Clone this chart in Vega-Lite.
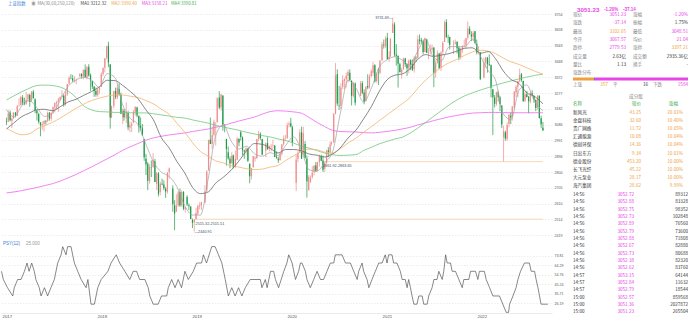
{
"$schema":"https://vega.github.io/schema/vega-lite/v6.json",
"background":"#ffffff",
"padding":0,
"spacing":8,
"config":{"view":{"stroke":null},"font":"Noto Sans CJK SC","axis":{"labelFont":"Liberation Sans","labelOverlap":false,"labelBound":false},"text":{"font":"Noto Sans CJK SC"}},
"datasets":{
"k":[
{"d":"2016-12-30","o":3108,"h":3128,"l":3084,"c":3104},
{"d":"2017-01-06","o":3105,"h":3172,"l":3101,"c":3154},
{"d":"2017-01-13","o":3160,"h":3172,"l":3106,"c":3113},
{"d":"2017-01-20","o":3110,"h":3128,"l":3066,"c":3123},
{"d":"2017-01-26","o":3126,"h":3161,"l":3120,"c":3159},
{"d":"2017-02-03","o":3159,"h":3163,"l":3130,"c":3141},
{"d":"2017-02-10","o":3140,"h":3204,"l":3138,"c":3197},
{"d":"2017-02-17","o":3200,"h":3245,"l":3195,"c":3202},
{"d":"2017-02-24","o":3205,"h":3261,"l":3200,"c":3253},
{"d":"2017-03-03","o":3248,"h":3264,"l":3205,"c":3218},
{"d":"2017-03-10","o":3220,"h":3249,"l":3203,"c":3212},
{"d":"2017-03-17","o":3213,"h":3284,"l":3205,"c":3237},
{"d":"2017-03-24","o":3240,"h":3269,"l":3224,"c":3269},
{"d":"2017-03-31","o":3265,"h":3273,"l":3194,"c":3223},
{"d":"2017-04-07","o":3230,"h":3287,"l":3225,"c":3286},
{"d":"2017-04-14","o":3285,"h":3295,"l":3243,"c":3246},
{"d":"2017-04-21","o":3240,"h":3245,"l":3155,"c":3173},
{"d":"2017-04-28","o":3170,"h":3175,"l":3111,"c":3155},
{"d":"2017-05-05","o":3150,"h":3158,"l":3092,"c":3103},
{"d":"2017-05-12","o":3100,"h":3100,"l":3016,"c":3083},
{"d":"2017-05-19","o":3082,"h":3106,"l":3053,"c":3090},
{"d":"2017-05-26","o":3090,"h":3110,"l":3044,"c":3110},
{"d":"2017-06-02","o":3108,"h":3115,"l":3086,"c":3105},
{"d":"2017-06-09","o":3110,"h":3165,"l":3100,"c":3158},
{"d":"2017-06-16","o":3158,"h":3162,"l":3110,"c":3123},
{"d":"2017-06-23","o":3123,"h":3160,"l":3110,"c":3158},
{"d":"2017-06-30","o":3160,"h":3194,"l":3150,"c":3192},
{"d":"2017-07-07","o":3190,"h":3218,"l":3160,"c":3218},
{"d":"2017-07-14","o":3215,"h":3230,"l":3180,"c":3222},
{"d":"2017-07-21","o":3225,"h":3248,"l":3162,"c":3238},
{"d":"2017-07-28","o":3235,"h":3257,"l":3231,"c":3253},
{"d":"2017-08-04","o":3255,"h":3294,"l":3254,"c":3262},
{"d":"2017-08-11","o":3260,"h":3270,"l":3194,"c":3208},
{"d":"2017-08-18","o":3210,"h":3287,"l":3200,"c":3268},
{"d":"2017-08-25","o":3270,"h":3332,"l":3260,"c":3332},
{"d":"2017-09-01","o":3335,"h":3379,"l":3330,"c":3367},
{"d":"2017-09-08","o":3366,"h":3391,"l":3360,"c":3365},
{"d":"2017-09-15","o":3365,"h":3386,"l":3344,"c":3353},
{"d":"2017-09-22","o":3350,"h":3378,"l":3340,"c":3352},
{"d":"2017-09-29","o":3349,"h":3364,"l":3330,"c":3349},
{"d":"2017-10-13","o":3380,"h":3397,"l":3370,"c":3391},
{"d":"2017-10-20","o":3392,"h":3397,"l":3364,"c":3378},
{"d":"2017-10-27","o":3378,"h":3418,"l":3360,"c":3417},
{"d":"2017-11-03","o":3417,"h":3450,"l":3370,"c":3372},
{"d":"2017-11-10","o":3370,"h":3440,"l":3360,"c":3433},
{"d":"2017-11-17","o":3436,"h":3451,"l":3376,"c":3383},
{"d":"2017-11-24","o":3385,"h":3395,"l":3290,"c":3353},
{"d":"2017-12-01","o":3350,"h":3352,"l":3301,"c":3317},
{"d":"2017-12-08","o":3315,"h":3320,"l":3254,"c":3289},
{"d":"2017-12-15","o":3290,"h":3310,"l":3255,"c":3267},
{"d":"2017-12-22","o":3265,"h":3306,"l":3254,"c":3297},
{"d":"2017-12-29","o":3297,"h":3314,"l":3273,"c":3307},
{"d":"2018-01-05","o":3314,"h":3402,"l":3314,"c":3391},
{"d":"2018-01-12","o":3392,"h":3430,"l":3380,"c":3429},
{"d":"2018-01-19","o":3430,"h":3488,"l":3402,"c":3487},
{"d":"2018-01-26","o":3490,"h":3562,"l":3480,"c":3558},
{"d":"2018-02-02","o":3563,"h":3587,"l":3433,"c":3462},
{"d":"2018-02-09","o":3450,"h":3450,"l":3062,"c":3129},
{"d":"2018-02-14","o":3130,"h":3200,"l":3125,"c":3199},
{"d":"2018-02-23","o":3200,"h":3290,"l":3185,"c":3289},
{"d":"2018-03-02","o":3290,"h":3310,"l":3240,"c":3254},
{"d":"2018-03-09","o":3250,"h":3325,"l":3240,"c":3307},
{"d":"2018-03-16","o":3300,"h":3335,"l":3263,"c":3269},
{"d":"2018-03-23","o":3268,"h":3280,"l":3150,"c":3152},
{"d":"2018-03-30","o":3130,"h":3184,"l":3091,"c":3169},
{"d":"2018-04-04","o":3170,"h":3181,"l":3110,"c":3131},
{"d":"2018-04-13","o":3125,"h":3220,"l":3095,"c":3160},
{"d":"2018-04-20","o":3155,"h":3170,"l":3053,"c":3071},
{"d":"2018-04-27","o":3068,"h":3105,"l":3041,"c":3082},
{"d":"2018-05-04","o":3079,"h":3104,"l":3041,"c":3091},
{"d":"2018-05-11","o":3100,"h":3175,"l":3095,"c":3163},
{"d":"2018-05-18","o":3160,"h":3198,"l":3140,"c":3193},
{"d":"2018-05-25","o":3190,"h":3195,"l":3130,"c":3141},
{"d":"2018-06-01","o":3140,"h":3141,"l":3038,"c":3075},
{"d":"2018-06-08","o":3080,"h":3130,"l":3050,"c":3067},
{"d":"2018-06-15","o":3065,"h":3090,"l":3020,"c":3021},
{"d":"2018-06-22","o":3000,"h":3001,"l":2868,"c":2890},
{"d":"2018-06-29","o":2880,"h":2910,"l":2782,"c":2847},
{"d":"2018-07-06","o":2850,"h":2860,"l":2691,"c":2747},
{"d":"2018-07-13","o":2745,"h":2847,"l":2730,"c":2831},
{"d":"2018-07-20","o":2830,"h":2870,"l":2770,"c":2829},
{"d":"2018-07-27","o":2830,"h":2915,"l":2826,"c":2873},
{"d":"2018-08-03","o":2865,"h":2880,"l":2740,"c":2740},
{"d":"2018-08-10","o":2730,"h":2800,"l":2692,"c":2795},
{"d":"2018-08-17","o":2790,"h":2800,"l":2653,"c":2669},
{"d":"2018-08-24","o":2680,"h":2741,"l":2660,"c":2729},
{"d":"2018-08-31","o":2730,"h":2760,"l":2720,"c":2725},
{"d":"2018-09-07","o":2725,"h":2750,"l":2690,"c":2703},
{"d":"2018-09-14","o":2700,"h":2710,"l":2644,"c":2682},
{"d":"2018-09-21","o":2682,"h":2799,"l":2670,"c":2797},
{"d":"2018-09-28","o":2800,"h":2827,"l":2760,"c":2821},
{"d":"2018-10-12","o":2700,"h":2720,"l":2560,"c":2606},
{"d":"2018-10-19","o":2600,"h":2630,"l":2449,"c":2550},
{"d":"2018-10-26","o":2560,"h":2665,"l":2560,"c":2598},
{"d":"2018-11-02","o":2600,"h":2685,"l":2590,"c":2676},
{"d":"2018-11-09","o":2680,"h":2700,"l":2590,"c":2598},
{"d":"2018-11-16","o":2600,"h":2690,"l":2590,"c":2679},
{"d":"2018-11-23","o":2680,"h":2685,"l":2570,"c":2579},
{"d":"2018-11-30","o":2575,"h":2590,"l":2555,"c":2588},
{"d":"2018-12-07","o":2650,"h":2660,"l":2595,"c":2605},
{"d":"2018-12-14","o":2600,"h":2610,"l":2570,"c":2593},
{"d":"2018-12-21","o":2590,"h":2595,"l":2515,"c":2516},
{"d":"2018-12-28","o":2510,"h":2520,"l":2462,"c":2494},
{"d":"2019-01-04","o":2497,"h":2515,"l":2440.91,"c":2514},
{"d":"2019-01-11","o":2515,"h":2585,"l":2515,"c":2553},
{"d":"2019-01-18","o":2550,"h":2600,"l":2540,"c":2596},
{"d":"2019-01-25","o":2596,"h":2618,"l":2575,"c":2601},
{"d":"2019-02-01","o":2600,"h":2620,"l":2570,"c":2618},
{"d":"2019-02-15","o":2618,"h":2721,"l":2610,"c":2682},
{"d":"2019-02-22","o":2690,"h":2812,"l":2680,"c":2804},
{"d":"2019-03-01","o":2810,"h":2995,"l":2810,"c":2994},
{"d":"2019-03-08","o":2995,"h":3129,"l":2969,"c":2969},
{"d":"2019-03-15","o":2970,"h":3075,"l":2940,"c":3022},
{"d":"2019-03-22","o":3025,"h":3116,"l":3015,"c":3104},
{"d":"2019-03-29","o":3090,"h":3100,"l":2960,"c":3091},
{"d":"2019-04-04","o":3100,"h":3250,"l":3100,"c":3246},
{"d":"2019-04-12","o":3250,"h":3288,"l":3180,"c":3189},
{"d":"2019-04-19","o":3190,"h":3270,"l":3170,"c":3270},
{"d":"2019-04-26","o":3260,"h":3265,"l":3050,"c":3086},
{"d":"2019-05-03","o":3080,"h":3090,"l":3040,"c":3078},
{"d":"2019-05-10","o":3000,"h":3000,"l":2838,"c":2939},
{"d":"2019-05-17","o":2920,"h":2955,"l":2875,"c":2882},
{"d":"2019-05-24","o":2880,"h":2895,"l":2823,"c":2852},
{"d":"2019-05-31","o":2855,"h":2920,"l":2850,"c":2898},
{"d":"2019-06-06","o":2900,"h":2905,"l":2822,"c":2827},
{"d":"2019-06-14","o":2830,"h":2930,"l":2825,"c":2881},
{"d":"2019-06-21","o":2875,"h":3010,"l":2870,"c":3001},
{"d":"2019-06-28","o":3000,"h":3005,"l":2955,"c":2979},
{"d":"2019-07-05","o":3040,"h":3048,"l":2990,"c":3011},
{"d":"2019-07-12","o":3010,"h":3015,"l":2900,"c":2931},
{"d":"2019-07-19","o":2930,"h":2935,"l":2880,"c":2924},
{"d":"2019-07-26","o":2925,"h":2950,"l":2905,"c":2944},
{"d":"2019-08-02","o":2940,"h":2946,"l":2860,"c":2868},
{"d":"2019-08-09","o":2850,"h":2852,"l":2733,"c":2774},
{"d":"2019-08-16","o":2775,"h":2825,"l":2755,"c":2824},
{"d":"2019-08-23","o":2830,"h":2892,"l":2825,"c":2897},
{"d":"2019-08-30","o":2880,"h":2895,"l":2862,"c":2886},
{"d":"2019-09-06","o":2885,"h":3000,"l":2880,"c":2999},
{"d":"2019-09-13","o":3000,"h":3048,"l":2985,"c":3031},
{"d":"2019-09-20","o":3030,"h":3040,"l":2995,"c":3006},
{"d":"2019-09-27","o":3000,"h":3000,"l":2905,"c":2905},
{"d":"2019-10-11","o":2930,"h":2980,"l":2891,"c":2973},
{"d":"2019-10-18","o":2975,"h":3010,"l":2935,"c":2938},
{"d":"2019-10-25","o":2940,"h":2960,"l":2925,"c":2954},
{"d":"2019-11-01","o":2955,"h":2970,"l":2925,"c":2958},
{"d":"2019-11-08","o":2960,"h":2995,"l":2940,"c":2964},
{"d":"2019-11-15","o":2960,"h":2962,"l":2890,"c":2891},
{"d":"2019-11-22","o":2890,"h":2925,"l":2880,"c":2885},
{"d":"2019-11-29","o":2880,"h":2892,"l":2855,"c":2871},
{"d":"2019-12-06","o":2872,"h":2915,"l":2870,"c":2912},
{"d":"2019-12-13","o":2910,"h":2970,"l":2900,"c":2967},
{"d":"2019-12-20","o":2968,"h":3021,"l":2960,"c":3004},
{"d":"2019-12-27","o":3005,"h":3024,"l":2988,"c":3005},
{"d":"2020-01-03","o":3005,"h":3098,"l":3000,"c":3083},
{"d":"2020-01-10","o":3085,"h":3105,"l":3070,"c":3092},
{"d":"2020-01-17","o":3095,"h":3127,"l":3070,"c":3075},
{"d":"2020-01-23","o":3070,"h":3080,"l":2955,"c":2977},
{"d":"2020-02-07","o":2735,"h":2905,"l":2685,"c":2876},
{"d":"2020-02-14","o":2880,"h":2927,"l":2860,"c":2917},
{"d":"2020-02-21","o":2920,"h":3058,"l":2915,"c":3039},
{"d":"2020-02-28","o":3040,"h":3074,"l":2880,"c":2880},
{"d":"2020-03-06","o":2910,"h":3074,"l":2900,"c":3034},
{"d":"2020-03-13","o":2970,"h":2987,"l":2880,"c":2887},
{"d":"2020-03-20","o":2880,"h":2900,"l":2646,"c":2745},
{"d":"2020-03-27","o":2690,"h":2782,"l":2690,"c":2772},
{"d":"2020-04-03","o":2740,"h":2780,"l":2735,"c":2763},
{"d":"2020-04-10","o":2770,"h":2835,"l":2760,"c":2796},
{"d":"2020-04-17","o":2800,"h":2840,"l":2780,"c":2839},
{"d":"2020-04-24","o":2840,"h":2860,"l":2800,"c":2808},
{"d":"2020-04-30","o":2810,"h":2862,"l":2805,"c":2860},
{"d":"2020-05-08","o":2860,"h":2905,"l":2833,"c":2895},
{"d":"2020-05-15","o":2895,"h":2905,"l":2866,"c":2868},
{"d":"2020-05-22","o":2870,"h":2900,"l":2800,"c":2814},
{"d":"2020-05-29","o":2820,"h":2860,"l":2800,"c":2852},
{"d":"2020-06-05","o":2855,"h":2935,"l":2850,"c":2930},
{"d":"2020-06-12","o":2930,"h":2950,"l":2890,"c":2920},
{"d":"2020-06-19","o":2920,"h":2985,"l":2910,"c":2967},
{"d":"2020-06-24","o":2970,"h":2985,"l":2960,"c":2979},
{"d":"2020-07-03","o":2980,"h":3155,"l":2975,"c":3152},
{"d":"2020-07-10","o":3150,"h":3458,"l":3150,"c":3383},
{"d":"2020-07-17","o":3390,"h":3420,"l":3200,"c":3214},
{"d":"2020-07-24","o":3200,"h":3320,"l":3175,"c":3197},
{"d":"2020-07-31","o":3200,"h":3335,"l":3180,"c":3310},
{"d":"2020-08-07","o":3315,"h":3385,"l":3300,"c":3354},
{"d":"2020-08-14","o":3350,"h":3366,"l":3301,"c":3360},
{"d":"2020-08-21","o":3360,"h":3400,"l":3310,"c":3381},
{"d":"2020-08-28","o":3380,"h":3418,"l":3340,"c":3404},
{"d":"2020-09-04","o":3400,"h":3420,"l":3350,"c":3355},
{"d":"2020-09-11","o":3350,"h":3355,"l":3202,"c":3260},
{"d":"2020-09-18","o":3260,"h":3345,"l":3250,"c":3338},
{"d":"2020-09-25","o":3335,"h":3341,"l":3202,"c":3218},
{"d":"2020-10-16","o":3260,"h":3350,"l":3258,"c":3336},
{"d":"2020-10-23","o":3336,"h":3350,"l":3270,"c":3279},
{"d":"2020-10-30","o":3280,"h":3300,"l":3209,"c":3225},
{"d":"2020-11-06","o":3230,"h":3320,"l":3225,"c":3312},
{"d":"2020-11-13","o":3320,"h":3390,"l":3300,"c":3310},
{"d":"2020-11-20","o":3310,"h":3390,"l":3303,"c":3377},
{"d":"2020-11-27","o":3380,"h":3420,"l":3370,"c":3408},
{"d":"2020-12-04","o":3400,"h":3465,"l":3380,"c":3444},
{"d":"2020-12-11","o":3445,"h":3451,"l":3340,"c":3347},
{"d":"2020-12-18","o":3350,"h":3400,"l":3340,"c":3394},
{"d":"2020-12-25","o":3400,"h":3428,"l":3325,"c":3397},
{"d":"2020-12-31","o":3400,"h":3474,"l":3390,"c":3473},
{"d":"2021-01-08","o":3475,"h":3585,"l":3470,"c":3570},
{"d":"2021-01-15","o":3570,"h":3600,"l":3545,"c":3566},
{"d":"2021-01-22","o":3560,"h":3620,"l":3550,"c":3607},
{"d":"2021-01-29","o":3610,"h":3640,"l":3480,"c":3483},
{"d":"2021-02-05","o":3483,"h":3530,"l":3465,"c":3497},
{"d":"2021-02-10","o":3500,"h":3610,"l":3495,"c":3603},
{"d":"2021-02-19","o":3640,"h":3731.69,"l":3640,"c":3697},
{"d":"2021-02-26","o":3690,"h":3704,"l":3497,"c":3509},
{"d":"2021-03-05","o":3510,"h":3572,"l":3442,"c":3502},
{"d":"2021-03-12","o":3500,"h":3505,"l":3310,"c":3453},
{"d":"2021-03-19","o":3450,"h":3460,"l":3400,"c":3404},
{"d":"2021-03-26","o":3400,"h":3430,"l":3363,"c":3418},
{"d":"2021-04-02","o":3420,"h":3490,"l":3418,"c":3484},
{"d":"2021-04-09","o":3485,"h":3490,"l":3435,"c":3451},
{"d":"2021-04-16","o":3450,"h":3455,"l":3380,"c":3426},
{"d":"2021-04-23","o":3425,"h":3480,"l":3395,"c":3474},
{"d":"2021-04-30","o":3475,"h":3480,"l":3415,"c":3447},
{"d":"2021-05-07","o":3450,"h":3480,"l":3410,"c":3418},
{"d":"2021-05-14","o":3420,"h":3500,"l":3400,"c":3490},
{"d":"2021-05-21","o":3490,"h":3500,"l":3465,"c":3486},
{"d":"2021-05-28","o":3490,"h":3625,"l":3485,"c":3601},
{"d":"2021-06-04","o":3600,"h":3630,"l":3570,"c":3592},
{"d":"2021-06-11","o":3595,"h":3610,"l":3575,"c":3590},
{"d":"2021-06-18","o":3590,"h":3600,"l":3510,"c":3525},
{"d":"2021-06-25","o":3525,"h":3610,"l":3525,"c":3607},
{"d":"2021-07-02","o":3600,"h":3605,"l":3519,"c":3519},
{"d":"2021-07-09","o":3520,"h":3550,"l":3480,"c":3525},
{"d":"2021-07-16","o":3530,"h":3570,"l":3510,"c":3539},
{"d":"2021-07-23","o":3540,"h":3570,"l":3520,"c":3550},
{"d":"2021-07-30","o":3550,"h":3555,"l":3312,"c":3397},
{"d":"2021-08-06","o":3400,"h":3475,"l":3370,"c":3458},
{"d":"2021-08-13","o":3458,"h":3535,"l":3455,"c":3516},
{"d":"2021-08-20","o":3515,"h":3520,"l":3420,"c":3427},
{"d":"2021-08-27","o":3430,"h":3530,"l":3410,"c":3522},
{"d":"2021-09-03","o":3525,"h":3590,"l":3510,"c":3581},
{"d":"2021-09-10","o":3585,"h":3715,"l":3585,"c":3703},
{"d":"2021-09-17","o":3705,"h":3723,"l":3611,"c":3613},
{"d":"2021-09-24","o":3615,"h":3630,"l":3580,"c":3613},
{"d":"2021-09-30","o":3615,"h":3617,"l":3540,"c":3568},
{"d":"2021-10-15","o":3570,"h":3595,"l":3512,"c":3572},
{"d":"2021-10-22","o":3575,"h":3600,"l":3570,"c":3582},
{"d":"2021-10-29","o":3585,"h":3590,"l":3515,"c":3547},
{"d":"2021-11-05","o":3550,"h":3560,"l":3475,"c":3491},
{"d":"2021-11-12","o":3495,"h":3550,"l":3480,"c":3539},
{"d":"2021-11-19","o":3540,"h":3565,"l":3520,"c":3560},
{"d":"2021-11-26","o":3560,"h":3600,"l":3555,"c":3564},
{"d":"2021-12-03","o":3565,"h":3610,"l":3545,"c":3608},
{"d":"2021-12-10","o":3610,"h":3708,"l":3600,"c":3666},
{"d":"2021-12-17","o":3665,"h":3680,"l":3632,"c":3632},
{"d":"2021-12-24","o":3630,"h":3650,"l":3590,"c":3618},
{"d":"2021-12-31","o":3615,"h":3650,"l":3590,"c":3640},
{"d":"2022-01-07","o":3650,"h":3651,"l":3575,"c":3579},
{"d":"2022-01-14","o":3575,"h":3600,"l":3510,"c":3521},
{"d":"2022-01-21","o":3520,"h":3560,"l":3510,"c":3522},
{"d":"2022-01-28","o":3520,"h":3525,"l":3355,"c":3361},
{"d":"2022-02-11","o":3370,"h":3490,"l":3365,"c":3462},
{"d":"2022-02-18","o":3460,"h":3495,"l":3430,"c":3491},
{"d":"2022-02-25","o":3490,"h":3495,"l":3400,"c":3451},
{"d":"2022-03-04","o":3450,"h":3510,"l":3440,"c":3447},
{"d":"2022-03-11","o":3445,"h":3450,"l":3250,"c":3309},
{"d":"2022-03-18","o":3300,"h":3300,"l":3023,"c":3251},
{"d":"2022-03-25","o":3250,"h":3265,"l":3190,"c":3212},
{"d":"2022-04-01","o":3210,"h":3285,"l":3200,"c":3282},
{"d":"2022-04-08","o":3280,"h":3290,"l":3225,"c":3251},
{"d":"2022-04-15","o":3250,"h":3260,"l":3167,"c":3211},
{"d":"2022-04-22","o":3200,"h":3205,"l":3066,"c":3087},
{"d":"2022-04-29","o":3010,"h":3080,"l":2863.65,"c":3047},
{"d":"2022-05-06","o":3040,"h":3050,"l":2989,"c":3002},
{"d":"2022-05-13","o":3000,"h":3100,"l":2989,"c":3084},
{"d":"2022-05-20","o":3090,"h":3148,"l":3070,"c":3146},
{"d":"2022-05-27","o":3140,"h":3160,"l":3090,"c":3130},
{"d":"2022-06-02","o":3135,"h":3196,"l":3110,"c":3195},
{"d":"2022-06-10","o":3190,"h":3290,"l":3180,"c":3284},
{"d":"2022-06-17","o":3280,"h":3324,"l":3253,"c":3316},
{"d":"2022-06-24","o":3315,"h":3350,"l":3253,"c":3349},
{"d":"2022-07-01","o":3350,"h":3424,"l":3341,"c":3387},
{"d":"2022-07-08","o":3390,"h":3398,"l":3345,"c":3356},
{"d":"2022-07-15","o":3350,"h":3352,"l":3225,"c":3228},
{"d":"2022-07-22","o":3230,"h":3285,"l":3222,"c":3270},
{"d":"2022-07-29","o":3270,"h":3290,"l":3250,"c":3253},
{"d":"2022-08-05","o":3255,"h":3260,"l":3155,"c":3227},
{"d":"2022-08-12","o":3225,"h":3285,"l":3215,"c":3277},
{"d":"2022-08-19","o":3275,"h":3294,"l":3270,"c":3258},
{"d":"2022-08-26","o":3260,"h":3260,"l":3217,"c":3236},
{"d":"2022-09-02","o":3235,"h":3240,"l":3167,"c":3186},
{"d":"2022-09-09","o":3190,"h":3262,"l":3175,"c":3262},
{"d":"2022-09-16","o":3260,"h":3263,"l":3123,"c":3126},
{"d":"2022-09-23","o":3125,"h":3140,"l":3065,"c":3088},
{"d":"2022-09-30","o":3067.57,"h":3102.65,"l":3048.51,"c":3051.23}
],
"ma":[
{"d":"2016-12-30","f":3177,"a":3060,"b":3065,"g":3235,"m":2674},
{"d":"2017-01-28","f":3132,"a":3097,"b":3040,"g":3260,"m":2680},
{"d":"2017-02-28","f":3200,"a":3135,"b":3025,"g":3285,"m":2688},
{"d":"2017-03-28","f":3232,"a":3155,"b":3030,"g":3305,"m":2697},
{"d":"2017-04-28","f":3189,"a":3176,"b":3060,"g":3322,"m":2707},
{"d":"2017-05-28","f":3136,"a":3179,"b":3080,"g":3325,"m":2718},
{"d":"2017-06-28","f":3155,"a":3170,"b":3100,"g":3322,"m":2730},
{"d":"2017-07-28","f":3232,"a":3194,"b":3125,"g":3313,"m":2745},
{"d":"2017-08-28","f":3317,"a":3223,"b":3155,"g":3290,"m":2765},
{"d":"2017-09-28","f":3355,"a":3239,"b":3185,"g":3250,"m":2785},
{"d":"2017-10-28","f":3371,"a":3263,"b":3210,"g":3200,"m":2808},
{"d":"2017-11-28","f":3355,"a":3286,"b":3232,"g":3175,"m":2831},
{"d":"2017-12-28","f":3312,"a":3313,"b":3246,"g":3165,"m":2855},
{"d":"2018-01-28","f":3394,"a":3354,"b":3258,"g":3163,"m":2880},
{"d":"2018-02-28","f":3370,"a":3352,"b":3265,"g":3160,"m":2905},
{"d":"2018-03-28","f":3214,"a":3325,"b":3265,"g":3160,"m":2930},
{"d":"2018-04-28","f":3125,"a":3287,"b":3258,"g":3158,"m":2952},
{"d":"2018-05-28","f":3088,"a":3244,"b":3250,"g":3157,"m":2972},
{"d":"2018-06-28","f":2971,"a":3177,"b":3232,"g":3157,"m":2992},
{"d":"2018-07-28","f":2862,"a":3116,"b":3212,"g":3152,"m":3006},
{"d":"2018-08-28","f":2800,"a":3008,"b":3180,"g":3145,"m":3016},
{"d":"2018-09-28","f":2773,"a":2945,"b":3148,"g":3138,"m":3024},
{"d":"2018-10-28","f":2712,"a":2864,"b":3095,"g":3130,"m":3030},
{"d":"2018-11-28","f":2596,"a":2794,"b":3040,"g":3126,"m":3036},
{"d":"2018-12-28","f":2541,"a":2708,"b":2978,"g":3115,"m":3045},
{"d":"2019-01-28","f":2540,"a":2670,"b":2925,"g":3105,"m":3052},
{"d":"2019-02-28","f":2763,"a":2680,"b":2895,"g":3095,"m":3060},
{"d":"2019-03-28","f":3016,"a":2732,"b":2868,"g":3082,"m":3070},
{"d":"2019-04-28","f":3085,"a":2769,"b":2855,"g":3072,"m":3080},
{"d":"2019-05-28","f":2988,"a":2811,"b":2838,"g":3062,"m":3095},
{"d":"2019-06-28","f":2939,"a":2867,"b":2830,"g":3052,"m":3108},
{"d":"2019-07-28","f":2956,"a":2929,"b":2820,"g":3040,"m":3120},
{"d":"2019-08-28","f":2910,"a":2972,"b":2815,"g":3030,"m":3132},
{"d":"2019-09-28","f":2896,"a":2967,"b":2818,"g":3020,"m":3150},
{"d":"2019-10-28","f":2917,"a":2944,"b":2830,"g":3012,"m":3165},
{"d":"2019-11-28","f":2900,"a":2915,"b":2840,"g":3000,"m":3170},
{"d":"2019-12-28","f":2961,"a":2936,"b":2870,"g":2990,"m":3168},
{"d":"2020-01-28","f":3013,"a":2936,"b":2898,"g":2975,"m":3163},
{"d":"2020-02-28","f":2929,"a":2928,"b":2925,"g":2955,"m":3155},
{"d":"2020-03-28","f":2815,"a":2909,"b":2938,"g":2945,"m":3130},
{"d":"2020-04-28","f":2805,"a":2902,"b":2935,"g":2930,"m":3100},
{"d":"2020-05-28","f":2856,"a":2891,"b":2920,"g":2915,"m":3075},
{"d":"2020-06-28","f":2919,"a":2908,"b":2915,"g":2905,"m":3052},
{"d":"2020-07-28","f":3148,"a":2945,"b":2940,"g":2900,"m":3045},
{"d":"2020-08-28","f":3353,"a":3005,"b":2975,"g":2902,"m":3043},
{"d":"2020-09-28","f":3307,"a":3053,"b":3005,"g":2905,"m":3042},
{"d":"2020-10-28","f":3222,"a":3121,"b":3040,"g":2930,"m":3038},
{"d":"2020-11-28","f":3309,"a":3197,"b":3075,"g":2950,"m":3036},
{"d":"2020-12-28","f":3433,"a":3286,"b":3110,"g":2970,"m":3040},
{"d":"2021-01-28","f":3478,"a":3357,"b":3145,"g":2985,"m":3045},
{"d":"2021-02-28","f":3496,"a":3385,"b":3180,"g":3000,"m":3052},
{"d":"2021-03-28","f":3476,"a":3392,"b":3212,"g":3010,"m":3060},
{"d":"2021-04-28","f":3445,"a":3424,"b":3250,"g":3035,"m":3070},
{"d":"2021-05-28","f":3531,"a":3480,"b":3305,"g":3065,"m":3084},
{"d":"2021-06-28","f":3603,"a":3509,"b":3355,"g":3100,"m":3097},
{"d":"2021-07-28","f":3494,"a":3498,"b":3395,"g":3135,"m":3110},
{"d":"2021-08-28","f":3471,"a":3506,"b":3432,"g":3170,"m":3122},
{"d":"2021-09-28","f":3556,"a":3515,"b":3460,"g":3205,"m":3133},
{"d":"2021-10-28","f":3558,"a":3530,"b":3480,"g":3235,"m":3142},
{"d":"2021-11-28","f":3556,"a":3547,"b":3505,"g":3260,"m":3150},
{"d":"2021-12-28","f":3602,"a":3550,"b":3525,"g":3278,"m":3156},
{"d":"2022-01-28","f":3501,"a":3517,"b":3535,"g":3295,"m":3158},
{"d":"2022-02-28","f":3412,"a":3527,"b":3530,"g":3310,"m":3160},
{"d":"2022-03-28","f":3357,"a":3485,"b":3515,"g":3325,"m":3160},
{"d":"2022-04-28","f":3150,"a":3410,"b":3488,"g":3338,"m":3159},
{"d":"2022-05-28","f":3117,"a":3359,"b":3465,"g":3350,"m":3158},
{"d":"2022-06-28","f":3293,"a":3335,"b":3450,"g":3362,"m":3158},
{"d":"2022-07-28","f":3326,"a":3280,"b":3430,"g":3373,"m":3158},
{"d":"2022-08-28","f":3228,"a":3257,"b":3410,"g":3383,"m":3158},
{"d":"2022-09-30","f":3170,"a":3212,"b":3390,"g":3391,"m":3158}
],
"psy":[
{"d":"2016-12-30","v":58.3},{"d":"2017-01-06","v":50},{"d":"2017-01-22","v":41.7},{"d":"2017-02-11","v":33.3},{"d":"2017-02-17","v":41.7},{"d":"2017-03-02","v":50},{"d":"2017-03-15","v":50},{"d":"2017-03-28","v":58.3},{"d":"2017-04-07","v":66.7},{"d":"2017-04-15","v":58.3},{"d":"2017-04-25","v":66.7},{"d":"2017-05-05","v":58.3},{"d":"2017-05-11","v":50},{"d":"2017-05-24","v":41.7},{"d":"2017-05-31","v":33.3},{"d":"2017-06-13","v":41.7},{"d":"2017-06-25","v":33.3},{"d":"2017-07-08","v":41.7},{"d":"2017-07-21","v":50},{"d":"2017-08-03","v":66.7},{"d":"2017-08-16","v":75},{"d":"2017-08-22","v":83.3},{"d":"2017-09-04","v":75},{"d":"2017-09-10","v":83.3},{"d":"2017-09-23","v":83.3},{"d":"2017-10-06","v":66.7},{"d":"2017-10-19","v":58.3},{"d":"2017-11-01","v":50},{"d":"2017-11-20","v":41.7},{"d":"2017-11-27","v":50},{"d":"2017-12-09","v":25},{"d":"2017-12-22","v":25},{"d":"2018-01-04","v":41.7},{"d":"2018-01-17","v":50},{"d":"2018-02-12","v":58.3},{"d":"2018-02-24","v":66.7},{"d":"2018-03-16","v":75},{"d":"2018-03-29","v":66.7},{"d":"2018-04-18","v":58.3},{"d":"2018-05-07","v":50},{"d":"2018-05-20","v":58.3},{"d":"2018-06-02","v":58.3},{"d":"2018-06-14","v":50},{"d":"2018-07-04","v":50},{"d":"2018-07-17","v":41.7},{"d":"2018-07-23","v":33.3},{"d":"2018-08-05","v":25},{"d":"2018-08-24","v":25},{"d":"2018-09-06","v":33.3},{"d":"2018-09-26","v":33.3},{"d":"2018-10-02","v":41.7},{"d":"2018-10-15","v":50},{"d":"2018-10-28","v":41.7},{"d":"2018-11-09","v":50},{"d":"2018-11-22","v":41.7},{"d":"2018-12-05","v":58.3},{"d":"2018-12-18","v":50},{"d":"2019-01-06","v":58.3},{"d":"2019-01-19","v":66.7},{"d":"2019-02-07","v":66.7},{"d":"2019-02-14","v":75},{"d":"2019-02-26","v":66.7},{"d":"2019-03-18","v":83.3},{"d":"2019-03-31","v":83.3},{"d":"2019-04-13","v":75},{"d":"2019-04-26","v":66.7},{"d":"2019-05-09","v":50},{"d":"2019-05-21","v":33.3},{"d":"2019-06-03","v":41.7},{"d":"2019-06-16","v":33.3},{"d":"2019-06-29","v":41.7},{"d":"2019-07-12","v":33.3},
{"d":"2019-07-25","v":41.7},{"d":"2019-08-13","v":50},{"d":"2019-09-21","v":50},{"d":"2019-09-27","v":41.7},{"d":"2019-10-10","v":50},{"d":"2019-10-17","v":41.7},{"d":"2019-10-30","v":58.3},{"d":"2019-11-11","v":58.3},{"d":"2019-11-18","v":50},{"d":"2019-11-30","v":41.7},{"d":"2019-12-20","v":58.3},{"d":"2020-01-01","v":66.7},{"d":"2020-01-08","v":75},{"d":"2020-01-21","v":66.7},{"d":"2020-02-03","v":50},{"d":"2020-02-15","v":58.3},{"d":"2020-02-22","v":66.7},{"d":"2020-02-28","v":66.7},{"d":"2020-03-12","v":58.3},{"d":"2020-03-18","v":50},{"d":"2020-03-31","v":41.7},{"d":"2020-04-13","v":50},{"d":"2020-04-26","v":58.3},{"d":"2020-05-09","v":50},{"d":"2020-05-21","v":50},{"d":"2020-06-03","v":58.3},{"d":"2020-06-16","v":66.7},{"d":"2020-06-29","v":66.7},{"d":"2020-07-05","v":75},{"d":"2020-07-31","v":75},{"d":"2020-08-13","v":66.7},{"d":"2020-09-01","v":66.7},{"d":"2020-09-14","v":58.3},{"d":"2020-09-27","v":50},{"d":"2020-10-03","v":58.3},{"d":"2020-10-16","v":66.7},{"d":"2020-10-22","v":58.3},{"d":"2020-11-04","v":50},{"d":"2020-11-11","v":41.7},{"d":"2020-11-23","v":50},{"d":"2020-12-06","v":58.3},{"d":"2020-12-19","v":66.7},{"d":"2021-01-01","v":66.7},{"d":"2021-01-13","v":75},{"d":"2021-01-20","v":66.7},{"d":"2021-01-26","v":75},{"d":"2021-02-08","v":75},{"d":"2021-02-14","v":66.7},{"d":"2021-02-27","v":66.7},{"d":"2021-03-12","v":58.3},{"d":"2021-03-19","v":50},{"d":"2021-03-31","v":50},{"d":"2021-04-07","v":41.7},{"d":"2021-04-13","v":50},{"d":"2021-04-20","v":41.7},{"d":"2021-04-26","v":33.3},{"d":"2021-05-03","v":25},{"d":"2021-05-15","v":25},{"d":"2021-05-22","v":33.3},{"d":"2021-06-04","v":33.3},{"d":"2021-06-10","v":25},{"d":"2021-06-23","v":25},{"d":"2021-06-29","v":33.3},{"d":"2021-07-12","v":41.7},{"d":"2021-07-19","v":50},{"d":"2021-07-31","v":50},{"d":"2021-08-07","v":58.3},{"d":"2021-08-20","v":50},{"d":"2021-08-26","v":58.3},{"d":"2021-09-02","v":75},{"d":"2021-09-08","v":66.7},{"d":"2021-09-21","v":66.7},{"d":"2021-09-27","v":58.3},{"d":"2021-10-10","v":58.3},{"d":"2021-10-23","v":50},{"d":"2021-11-05","v":41.7},{"d":"2021-11-11","v":50},{"d":"2021-11-30","v":50},{"d":"2021-12-07","v":58.3},{"d":"2021-12-26","v":58.3},
{"d":"2022-01-04","v":50},{"d":"2022-01-10","v":58.3},{"d":"2022-01-29","v":58.3},{"d":"2022-02-05","v":50},{"d":"2022-02-18","v":41.7},{"d":"2022-03-03","v":33.3},{"d":"2022-03-28","v":33.3},{"d":"2022-04-10","v":25},{"d":"2022-04-23","v":16.7},{"d":"2022-05-02","v":16.7},{"d":"2022-05-06","v":25},{"d":"2022-05-19","v":33.3},{"d":"2022-05-31","v":41.7},{"d":"2022-06-07","v":50},{"d":"2022-06-17","v":58.3},{"d":"2022-07-02","v":66.7},{"d":"2022-07-21","v":66.7},{"d":"2022-07-28","v":58.3},{"d":"2022-08-10","v":58.3},{"d":"2022-08-16","v":50},{"d":"2022-08-23","v":41.7},{"d":"2022-08-29","v":33.3},{"d":"2022-09-04","v":25},{"d":"2022-09-30","v":25}
],
"gap":[{"d":"2019-01-07","d2":"2022-09-30","p":2515.4},{"d":"2020-05-22","d2":"2022-09-30","p":2862.8}],
"annL":[{"d":"2019-01-04","p":2440.91,"t":"—2440.91"},{"d":"2019-01-09","p":2487,"t":"2515.32-2515.51"},{"d":"2020-05-22","p":2837,"t":"2861.92-2863.65"}],
"annR":[{"d":"2021-02-19","p":3731.69,"t":"3731.69—"}],
"hdr":[{"d":"2017-01-05","t":"上证指数","g":"idx"},{"d":"2017-04-06","t":"◉","g":"ic"},{"d":"2017-04-30","t":"MA(30,60,250,120)","g":"par"},{"d":"2017-10-16","t":"MA1:3212.32","g":"m1"},{"d":"2018-02-13","t":"MA2:3390.40","g":"m2"},{"d":"2018-06-12","t":"MA3:3158.21","g":"m3"},{"d":"2018-10-05","t":"MA4:3390.81","g":"m4"}],
"psyh":[{"d":"2017-01-05","t":"PSY(12)","g":"a"},{"d":"2017-04-03","t":"25.000","g":"b"}],
"dist":[{"r":9,"s":"up","n":357,"i":1},{"r":9,"s":"fl","n":16,"i":2},{"r":9,"s":"dn","n":1584,"i":3}],
"big":[{"r":0,"c":2,"t":"3051.23","s":"dn"}],
"big2":[{"r":0,"c":3,"t":"-1.20%","s":"dn"},{"r":0,"c":6,"t":"-37.14","s":"dn"}],
"cc":[{"r":11,"c":10,"t":"成分股","s":"lb"}],
"cl":[
{"r":1,"c":1,"t":"现价","s":"lb"},{"r":1,"c":8,"t":"涨幅","s":"lb"},
{"r":2,"c":1,"t":"涨跌","s":"lb"},{"r":2,"c":8,"t":"振幅","s":"lb"},
{"r":3,"c":1,"t":"最高","s":"lb"},{"r":3,"c":8,"t":"最低","s":"lb"},
{"r":4,"c":1,"t":"今开","s":"lb"},{"r":4,"c":8,"t":"均价","s":"lb"},
{"r":5,"c":1,"t":"跌停","s":"lb"},{"r":5,"c":8,"t":"涨停","s":"lb"},
{"r":6,"c":1,"t":"成交量","s":"lb"},{"r":6,"c":8,"t":"成交额","s":"lb"},
{"r":7,"c":1,"t":"量比","s":"lb"},{"r":7,"c":8,"t":"换手","s":"lb"},
{"r":8,"c":1,"t":"涨跌分布","s":"lb"},
{"r":10,"c":1,"t":"上涨","s":"lb"},{"r":10,"c":5,"t":"平","s":"lb"},{"r":10,"c":13,"t":"下跌","s":"lb"},
{"r":12,"c":1,"t":"名称","s":"hd"},
{"r":13,"c":1,"t":"新风光","s":"nt"},{"r":14,"c":1,"t":"金盘科技","s":"nt"},{"r":15,"c":1,"t":"贵广网络","s":"nt"},{"r":16,"c":1,"t":"汇通能源","s":"nt"},{"r":17,"c":1,"t":"德创环保","s":"nt"},{"r":18,"c":1,"t":"日出东方","s":"nt"},{"r":19,"c":1,"t":"德业股份","s":"nt"},{"r":20,"c":1,"t":"长飞光纤","s":"nt"},{"r":21,"c":1,"t":"大元泵业","s":"nt"},{"r":22,"c":1,"t":"海汽集团","s":"nt"},
{"r":23,"c":1,"t":"14:56","s":"nt"},{"r":24,"c":1,"t":"14:56","s":"nt"},{"r":25,"c":1,"t":"14:56","s":"nt"},{"r":26,"c":1,"t":"14:56","s":"nt"},{"r":27,"c":1,"t":"14:56","s":"nt"},{"r":28,"c":1,"t":"14:56","s":"nt"},{"r":29,"c":1,"t":"14:56","s":"nt"},{"r":30,"c":1,"t":"14:56","s":"nt"},{"r":31,"c":1,"t":"14:56","s":"nt"},{"r":32,"c":1,"t":"14:56","s":"nt"},{"r":33,"c":1,"t":"14:56","s":"nt"},{"r":34,"c":1,"t":"14:57","s":"nt"},{"r":35,"c":1,"t":"14:57","s":"nt"},{"r":36,"c":1,"t":"14:57","s":"nt"},{"r":37,"c":1,"t":"15:00","s":"nt"},{"r":38,"c":1,"t":"15:00","s":"nt"},{"r":39,"c":1,"t":"15:00","s":"nt"}
],
"cr":[
{"r":1,"c":7,"t":"3051.23","s":"dn"},{"r":1,"c":16,"t":"-1.20%","s":"dn"},
{"r":2,"c":7,"t":"-37.14","s":"dn"},{"r":2,"c":16,"t":"1.75%","s":"nt"},
{"r":3,"c":7,"t":"3102.65","s":"up"},{"r":3,"c":16,"t":"3048.51","s":"dn"},
{"r":4,"c":7,"t":"3067.57","s":"dn"},{"r":4,"c":16,"t":"21.04","s":"dn"},
{"r":5,"c":7,"t":"2779.53","s":"dn"},{"r":5,"c":16,"t":"3397.21","s":"up"},
{"r":6,"c":7,"t":"2.63亿","s":"nt"},{"r":6,"c":16,"t":"2935.36亿","s":"nt"},
{"r":7,"c":7,"t":"1.13","s":"nt"},{"r":7,"c":16,"t":"-","s":"nt"},
{"r":10,"c":4,"t":"357","s":"up"},{"r":10,"c":12,"t":"16","s":"nt"},{"r":10,"c":16,"t":"1584","s":"dn"},
{"r":12,"c":11,"t":"现价","s":"hd"},{"r":12,"c":14,"t":"涨幅","s":"hd"},
{"r":13,"c":11,"t":"43.25","s":"up"},{"r":13,"c":15,"t":"20.01%","s":"up"},
{"r":14,"c":11,"t":"32.60","s":"up"},{"r":14,"c":15,"t":"10.40%","s":"up"},
{"r":15,"c":11,"t":"11.72","s":"up"},{"r":15,"c":15,"t":"10.05%","s":"up"},
{"r":16,"c":11,"t":"10.08","s":"up"},{"r":16,"c":15,"t":"10.04%","s":"up"},
{"r":17,"c":11,"t":"14.36","s":"up"},{"r":17,"c":15,"t":"10.04%","s":"up"},
{"r":18,"c":11,"t":"9.34","s":"up"},{"r":18,"c":15,"t":"10.01%","s":"up"},
{"r":19,"c":11,"t":"453.20","s":"up"},{"r":19,"c":15,"t":"10.00%","s":"up"},
{"r":20,"c":11,"t":"45.22","s":"up"},{"r":20,"c":15,"t":"10.00%","s":"up"},
{"r":21,"c":11,"t":"28.17","s":"up"},{"r":21,"c":15,"t":"10.00%","s":"up"},
{"r":22,"c":11,"t":"28.62","s":"up"},{"r":22,"c":15,"t":"9.99%","s":"up"},
{"r":23,"c":9,"t":"3052.72","s":"dn"},{"r":23,"c":16,"t":"89312","s":"nt"},
{"r":24,"c":9,"t":"3052.88","s":"dn"},{"r":24,"c":16,"t":"83328","s":"nt"},
{"r":25,"c":9,"t":"3052.75","s":"dn"},{"r":25,"c":16,"t":"98352","s":"nt"},
{"r":26,"c":9,"t":"3052.73","s":"dn"},{"r":26,"c":16,"t":"102848","s":"nt"},
{"r":27,"c":9,"t":"3052.89","s":"dn"},{"r":27,"c":16,"t":"76560","s":"nt"},
{"r":28,"c":9,"t":"3052.79","s":"dn"},{"r":28,"c":16,"t":"73600","s":"nt"},
{"r":29,"c":9,"t":"3052.88","s":"dn"},{"r":29,"c":16,"t":"71808","s":"nt"},
{"r":30,"c":9,"t":"3052.67","s":"dn"},{"r":30,"c":16,"t":"82880","s":"nt"},
{"r":31,"c":9,"t":"3052.73","s":"dn"},{"r":31,"c":16,"t":"80688","s":"nt"},
{"r":32,"c":9,"t":"3052.38","s":"dn"},{"r":32,"c":16,"t":"82320","s":"nt"},
{"r":33,"c":9,"t":"3052.62","s":"dn"},{"r":33,"c":16,"t":"83760","s":"nt"},
{"r":34,"c":9,"t":"3053.15","s":"dn"},{"r":34,"c":16,"t":"64144","s":"nt"},
{"r":35,"c":9,"t":"3052.84","s":"dn"},{"r":35,"c":16,"t":"11632","s":"nt"},
{"r":36,"c":9,"t":"3052.79","s":"dn"},{"r":36,"c":16,"t":"18544","s":"nt"},
{"r":37,"c":9,"t":"3052.57","s":"dn"},{"r":37,"c":16,"t":"859568","s":"nt"},
{"r":38,"c":9,"t":"3051.36","s":"dn"},{"r":38,"c":16,"t":"2027872","s":"nt"},
{"r":39,"c":9,"t":"3051.23","s":"dn"},{"r":39,"c":16,"t":"265504","s":"nt"}
]
},
"hconcat":[
{"spacing":2,"vconcat":[
{"width":551,"height":238,
"resolve":{"axis":{"y":"independent"}},
"encoding":{"x":{"field":"d","type":"temporal","scale":{"type":"utc","domain":[{"year":2016,"month":12,"date":28,"utc":true},{"year":2022,"month":10,"date":16,"utc":true}]},"axis":null}},
"layer":[
{"data":{"name":"gap"},"mark":{"type":"rule","color":"#f7cfa6","strokeWidth":0.8},"encoding":{"x2":{"field":"d2"},"y":{"field":"p","type":"quantitative","scale":{"domain":[2402,3838.5],"nice":false,"zero":false},"axis":null}}},
{"data":{"name":"k"},"mark":{"type":"rule","strokeWidth":0.7},"encoding":{"y":{"field":"l","type":"quantitative","scale":{"domain":[2402,3838.5],"nice":false,"zero":false},"axis":{"orient":"right","title":null,"values":[2419,2514,2610,2705,2800,2896,2991,3086,3182,3277,3372,3468,3563,3658,3754],"format":"d","labelOverlap":false,"grid":true,"gridColor":"#e3e3e3","gridDash":[1.5,1.5],"gridWidth":0.6,"domain":false,"ticks":false,"labelFontSize":3.6,"labelColor":"#555555","labelPadding":2}},"y2":{"field":"h"},"color":{"condition":{"test":"datum.c >= datum.o","value":"#f08c8c"},"value":"#1e9a48"}}},
{"data":{"name":"k"},"mark":{"type":"bar","size":1.2},"encoding":{"y":{"field":"o","type":"quantitative","scale":{"domain":[2402,3838.5],"nice":false,"zero":false},"axis":null},"y2":{"field":"c"},"color":{"condition":{"test":"datum.c >= datum.o","value":"#f08c8c"},"value":"#1e9a48"}}},
{"data":{"name":"ma"},"mark":{"type":"line","color":"#ee66ee","strokeWidth":0.8,"interpolate":"monotone"},"encoding":{"y":{"field":"m","type":"quantitative","scale":{"domain":[2402,3838.5],"nice":false,"zero":false},"axis":null}}},
{"data":{"name":"ma"},"mark":{"type":"line","color":"#72c67c","strokeWidth":0.8,"interpolate":"monotone"},"encoding":{"y":{"field":"g","type":"quantitative","scale":{"domain":[2402,3838.5],"nice":false,"zero":false},"axis":null}}},
{"data":{"name":"ma"},"mark":{"type":"line","color":"#f3b470","strokeWidth":0.8,"interpolate":"monotone"},"encoding":{"y":{"field":"b","type":"quantitative","scale":{"domain":[2402,3838.5],"nice":false,"zero":false},"axis":null}}},
{"data":{"name":"ma"},"mark":{"type":"line","color":"#6a6a6a","strokeWidth":0.8,"interpolate":"monotone"},"encoding":{"y":{"field":"a","type":"quantitative","scale":{"domain":[2402,3838.5],"nice":false,"zero":false},"axis":null}}},
{"data":{"name":"ma"},"mark":{"type":"line","color":"#a0a0a0","strokeWidth":0.7,"interpolate":"monotone"},"encoding":{"y":{"field":"f","type":"quantitative","scale":{"domain":[2402,3838.5],"nice":false,"zero":false},"axis":null}}},
{"data":{"name":"annL"},"mark":{"type":"text","align":"left","baseline":"middle","fontSize":3.8,"font":"Liberation Sans","color":"#3d4f66"},"encoding":{"y":{"field":"p","type":"quantitative","scale":{"domain":[2402,3838.5],"nice":false,"zero":false},"axis":null},"text":{"field":"t"}}},
{"data":{"name":"annR"},"mark":{"type":"text","align":"right","baseline":"middle","fontSize":3.8,"font":"Liberation Sans","color":"#3d4f66"},"encoding":{"y":{"field":"p","type":"quantitative","scale":{"domain":[2402,3838.5],"nice":false,"zero":false},"axis":null},"text":{"field":"t"}}},
{"data":{"name":"hdr"},"mark":{"type":"text","align":"left","baseline":"middle","fontSize":4.4},"encoding":{"y":{"datum":3814,"type":"quantitative","scale":{"domain":[2402,3838.5],"nice":false,"zero":false},"axis":null},"text":{"field":"t"},"color":{"field":"g","type":"nominal","scale":{"domain":["idx","ic","par","m1","m2","m3","m4"],"range":["#3a7fd5","#999999","#888888","#333333","#f0a040","#e844e8","#3cb04c"]},"legend":null}}}
]},
{"width":551,"height":73,
"resolve":{"axis":{"y":"independent"}},
"encoding":{"x":{"field":"d","type":"temporal","scale":{"type":"utc","domain":[{"year":2016,"month":12,"date":28,"utc":true},{"year":2022,"month":10,"date":16,"utc":true}]},"axis":{"values":[{"year":2017,"month":1,"date":1,"utc":true},{"year":2018,"month":1,"date":1,"utc":true},{"year":2019,"month":1,"date":1,"utc":true},{"year":2020,"month":1,"date":1,"utc":true},{"year":2021,"month":1,"date":1,"utc":true},{"year":2022,"month":1,"date":1,"utc":true}],"format":"%Y","labelAlign":"left","labelFontSize":4.3,"labelColor":"#555555","labelPadding":1.5,"ticks":false,"domain":true,"domainColor":"#dddddd","domainWidth":0.6,"grid":false,"title":null,"labelFlush":false}}},
"layer":[
{"data":{"name":"psy"},"mark":{"type":"line","color":"#555555","strokeWidth":0.7},"encoding":{"y":{"field":"v","type":"quantitative","scale":{"domain":[16.06,90.02],"nice":false,"zero":false},"axis":{"orient":"right","title":null,"values":[26.19,35.71,45.24,54.76,64.29,73.81],"format":".2f","labelOverlap":false,"grid":true,"gridColor":"#e3e3e3","gridDash":[1.5,1.5],"gridWidth":0.6,"domain":false,"ticks":false,"labelFontSize":3.6,"labelColor":"#555555","labelPadding":2}}}},
{"data":{"name":"psyh"},"mark":{"type":"text","align":"left","baseline":"middle","fontSize":4.5,"font":"Liberation Sans"},"encoding":{"y":{"datum":86,"type":"quantitative","scale":{"domain":[16.06,90.02],"nice":false,"zero":false},"axis":null},"text":{"field":"t"},"color":{"field":"g","type":"nominal","scale":{"domain":["a","b"],"range":["#888888","#333333"]},"legend":null}}}
]}
]},
{"width":118,"height":320,
"resolve":{"scale":{"x":"independent"}},
"layer":[
{"data":{"name":"dist"},"mark":{"type":"bar","orient":"horizontal","size":3},"encoding":{"x":{"field":"n","type":"quantitative","stack":"zero","scale":{"domain":[0,1957],"range":[2,117],"nice":false,"zero":false},"axis":null},"y":{"field":"r","type":"quantitative","scale":{"domain":[0,1,7,8,9,10,11,12,13,22,23,39],"range":[6,15,65,73,79,85,97,104,113,186,195,317],"nice":false,"zero":false},"axis":null},"color":{"field":"s","type":"nominal","scale":{"domain":["lb","nt","up","dn","hd","fl"],"range":["#555555","#222222","#e8383d","#1f9a4a","#888888","#bbbbbb"]},"legend":null},"order":{"field":"i","type":"quantitative"}}},
{"data":{"name":"cl"},"mark":{"type":"text","align":"left","baseline":"middle","fontSize":4.6},"encoding":{"x":{"field":"c","type":"quantitative","scale":{"domain":[1,2,3,4,5,6,7,8,9,10,11,12,13,14,15,16],"range":[2,6,33,37,42,52,55,62,63,65,70,77,82,107,112,117],"nice":false,"zero":false},"axis":null},"y":{"field":"r","type":"quantitative","scale":{"domain":[0,1,7,8,9,10,11,12,13,22,23,39],"range":[6,15,65,73,79,85,97,104,113,186,195,317],"nice":false,"zero":false},"axis":null},"text":{"field":"t"},"color":{"field":"s","type":"nominal","scale":{"domain":["lb","nt","up","dn","hd","fl"],"range":["#555555","#222222","#e8383d","#1f9a4a","#888888","#bbbbbb"]},"legend":null}}},
{"data":{"name":"cr"},"mark":{"type":"text","align":"right","baseline":"middle","fontSize":4.6},"encoding":{"x":{"field":"c","type":"quantitative","scale":{"domain":[1,2,3,4,5,6,7,8,9,10,11,12,13,14,15,16],"range":[2,6,33,37,42,52,55,62,63,65,70,77,82,107,112,117],"nice":false,"zero":false},"axis":null},"y":{"field":"r","type":"quantitative","scale":{"domain":[0,1,7,8,9,10,11,12,13,22,23,39],"range":[6,15,65,73,79,85,97,104,113,186,195,317],"nice":false,"zero":false},"axis":null},"text":{"field":"t"},"color":{"field":"s","type":"nominal","scale":{"domain":["lb","nt","up","dn","hd","fl"],"range":["#555555","#222222","#e8383d","#1f9a4a","#888888","#bbbbbb"]},"legend":null}}},
{"data":{"name":"cc"},"mark":{"type":"text","align":"center","baseline":"middle","fontSize":4.6},"encoding":{"x":{"field":"c","type":"quantitative","scale":{"domain":[1,2,3,4,5,6,7,8,9,10,11,12,13,14,15,16],"range":[2,6,33,37,42,52,55,62,63,65,70,77,82,107,112,117],"nice":false,"zero":false},"axis":null},"y":{"field":"r","type":"quantitative","scale":{"domain":[0,1,7,8,9,10,11,12,13,22,23,39],"range":[6,15,65,73,79,85,97,104,113,186,195,317],"nice":false,"zero":false},"axis":null},"text":{"field":"t"},"color":{"field":"s","type":"nominal","scale":{"domain":["lb","nt","up","dn","hd","fl"],"range":["#555555","#222222","#e8383d","#1f9a4a","#888888","#bbbbbb"]},"legend":null}}},
{"data":{"name":"big"},"mark":{"type":"text","align":"left","baseline":"middle","fontSize":6.2,"fontWeight":"bold","font":"Liberation Sans"},"encoding":{"x":{"field":"c","type":"quantitative","scale":{"domain":[1,2,3,4,5,6,7,8,9,10,11,12,13,14,15,16],"range":[2,6,33,37,42,52,55,62,63,65,70,77,82,107,112,117],"nice":false,"zero":false},"axis":null},"y":{"field":"r","type":"quantitative","scale":{"domain":[0,1,7,8,9,10,11,12,13,22,23,39],"range":[6,15,65,73,79,85,97,104,113,186,195,317],"nice":false,"zero":false},"axis":null},"text":{"field":"t"},"color":{"field":"s","type":"nominal","scale":{"domain":["lb","nt","up","dn","hd","fl"],"range":["#555555","#222222","#e8383d","#1f9a4a","#888888","#bbbbbb"]},"legend":null}}},
{"data":{"name":"big2"},"mark":{"type":"text","align":"left","baseline":"middle","fontSize":4.5,"fontWeight":"bold","font":"Liberation Sans"},"encoding":{"x":{"field":"c","type":"quantitative","scale":{"domain":[1,2,3,4,5,6,7,8,9,10,11,12,13,14,15,16],"range":[2,6,33,37,42,52,55,62,63,65,70,77,82,107,112,117],"nice":false,"zero":false},"axis":null},"y":{"field":"r","type":"quantitative","scale":{"domain":[0,1,7,8,9,10,11,12,13,22,23,39],"range":[6,15,65,73,79,85,97,104,113,186,195,317],"nice":false,"zero":false},"axis":null},"text":{"field":"t"},"color":{"field":"s","type":"nominal","scale":{"domain":["lb","nt","up","dn","hd","fl"],"range":["#555555","#222222","#e8383d","#1f9a4a","#888888","#bbbbbb"]},"legend":null}}}
]}
]
}
